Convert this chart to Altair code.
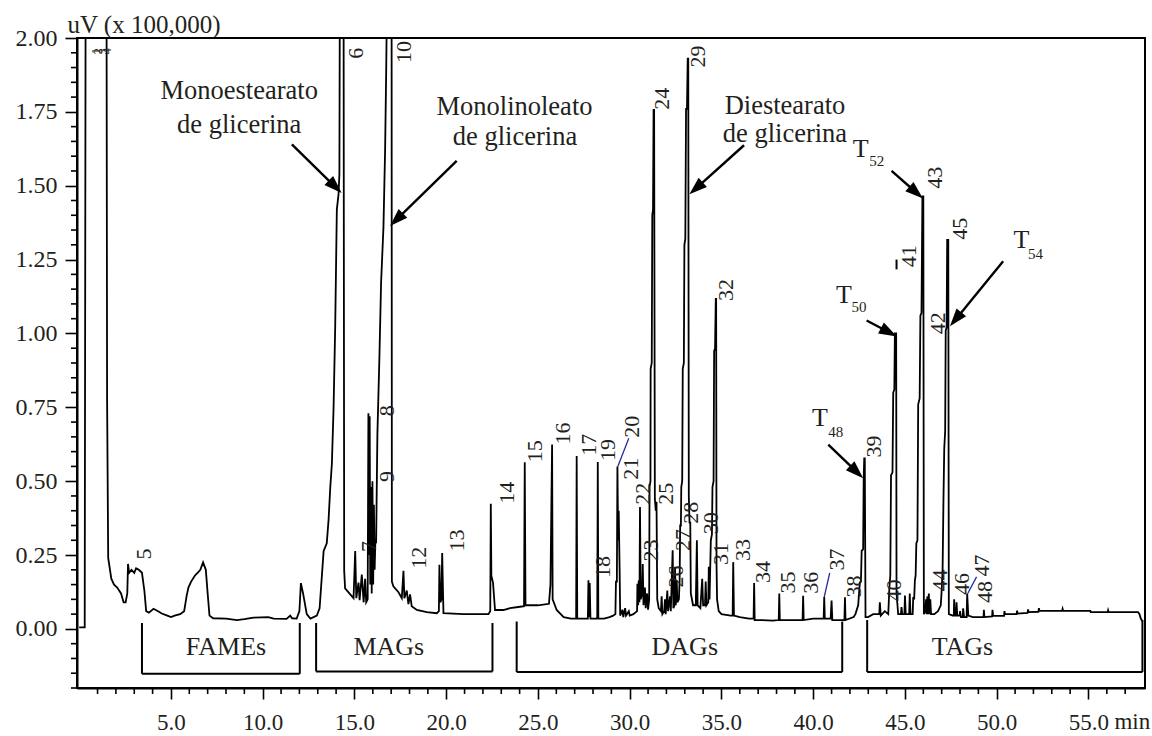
import math
import altair as alt
import pandas as pd

# ---------------- chromatogram trace (min, uV x 100,000) ----------------
TIME = [
    0.00, 0.30, 0.36, 1.48, 1.52, 1.58, 1.75, 1.90, 2.07, 2.28, 2.42, 2.53, 2.62, 2.66, 2.72, 2.85,
    3.00, 3.10, 3.25, 3.42, 3.55, 3.65, 3.80, 4.05, 4.30, 4.50, 4.80, 5.00, 5.20, 5.50, 5.72, 5.85,
    5.95, 6.10, 6.30, 6.45, 6.60, 6.75, 6.90, 7.00, 7.10, 7.30, 8.00, 8.60, 9.00, 9.50, 10.30, 10.60,
    11.30, 11.50, 11.60, 11.85, 12.00, 12.08, 12.20, 12.40, 12.60, 12.95, 13.10, 13.32, 13.49, 13.59,
    13.68, 13.77, 13.86, 13.95, 14.04, 14.13, 14.18, 14.22, 14.40, 14.44, 14.49, 14.77, 14.95, 15.04,
    15.10, 15.22, 15.28, 15.40, 15.50, 15.58, 15.64, 15.72, 15.76, 15.80, 15.83, 15.86, 15.90, 15.94,
    15.98, 16.02, 16.06, 16.10, 16.14, 16.18, 16.25, 16.36, 16.45, 16.58, 16.67, 16.73, 16.85, 17.02,
    17.04, 17.12, 17.40, 17.58, 17.67, 17.72, 17.85, 17.94, 18.03, 18.12, 18.40, 18.94, 19.49, 19.60,
    19.63, 19.68, 19.74, 19.78, 19.85, 20.94, 22.30, 22.40, 22.43, 22.46, 22.55, 22.66, 23.11, 23.48,
    24.02, 24.24, 24.28, 24.32, 25.00, 25.60, 25.68, 25.77, 25.80, 26.02, 26.40, 26.80, 27.08, 27.11,
    27.14, 27.50, 27.72, 27.75, 27.78, 27.82, 27.86, 28.20, 28.23, 28.26, 28.29, 28.60, 28.90, 29.10,
    29.22, 29.25, 29.30, 29.33, 29.37, 29.40, 29.45, 29.48, 29.60, 29.65, 29.75, 29.80, 29.95, 30.00,
    30.20, 30.40, 30.42, 30.46, 30.49, 30.53, 30.56, 30.60, 30.68, 30.71, 30.75, 30.83, 30.87, 30.95,
    31.00, 31.06, 31.08, 31.13, 31.14, 31.20, 31.23, 31.27, 31.30, 31.33, 31.37, 31.42, 31.46, 31.50,
    31.58, 31.70, 31.74, 31.78, 31.88, 31.92, 31.96, 32.05, 32.09, 32.20, 32.24, 32.34, 32.38, 32.44,
    32.47, 32.51, 32.56, 32.60, 32.68, 32.72, 32.75, 32.79, 32.81, 32.86, 32.89, 32.95, 32.98, 33.03,
    33.07, 33.12, 33.16, 33.19, 33.22, 33.26, 33.30, 33.33, 33.45, 33.60, 33.66, 33.70, 33.85, 33.95,
    34.00, 34.10, 34.14, 34.18, 34.28, 34.31, 34.35, 34.42, 34.48, 34.51, 34.57, 34.60, 34.65, 34.69,
    34.71, 34.73, 34.76, 34.85, 35.00, 35.50, 35.61, 35.64, 35.68, 36.00, 36.50, 36.75, 36.78, 36.81,
    37.20, 37.80, 38.12, 38.15, 38.18, 38.80, 39.42, 39.45, 39.48, 40.00, 40.57, 40.60, 40.63, 40.95,
    41.00, 41.04, 41.50, 41.70, 41.73, 41.76, 42.20, 42.30, 42.45, 42.54, 42.60, 42.64, 42.72, 42.75,
    42.78, 42.81, 42.85, 42.99, 43.27, 43.60, 43.63, 43.68, 43.90, 44.09, 44.15, 44.20, 44.24, 44.32,
    44.36, 44.42, 44.45, 44.52, 44.54, 44.63, 44.78, 44.81, 44.85, 44.97, 45.00, 45.04, 45.23, 45.26,
    45.30, 45.42, 45.45, 45.50, 45.54, 45.58, 45.62, 45.68, 45.72, 45.80, 45.84, 45.90, 45.95, 46.00,
    46.03, 46.10, 46.15, 46.18, 46.22, 46.25, 46.30, 46.33, 46.38, 46.42, 46.60, 46.80, 46.95, 47.00,
    47.05, 47.10, 47.14, 47.19, 47.22, 47.27, 47.30, 47.36, 47.39, 47.60, 47.66, 47.68, 47.72, 47.79,
    47.81, 47.85, 47.98, 48.00, 48.05, 48.15, 48.17, 48.22, 48.36, 48.39, 48.45, 48.70, 49.28, 49.30,
    49.33, 49.75, 49.77, 49.80, 50.40, 50.42, 50.45, 51.08, 51.11, 51.14, 51.68, 51.71, 51.74, 52.27,
    52.30, 52.33, 53.56, 53.59, 53.62, 55.10, 55.12, 56.05, 56.07, 56.10, 57.70, 57.78, 57.85, 57.95,
]
SIGNAL = [
    0.005, 0.005, 2.60, 2.60, 0.78, 0.24, 0.17, 0.15, 0.14, 0.12, 0.09, 0.09, 0.12, 0.22, 0.19, 0.20,
    0.19, 0.205, 0.20, 0.19, 0.13, 0.06, 0.055, 0.068, 0.06, 0.052, 0.045, 0.04, 0.045, 0.05, 0.06, 0.11,
    0.14, 0.16, 0.18, 0.19, 0.20, 0.225, 0.20, 0.12, 0.045, 0.036, 0.035, 0.03, 0.033, 0.038, 0.04, 0.035,
    0.034, 0.045, 0.036, 0.035, 0.06, 0.155, 0.12, 0.05, 0.035, 0.045, 0.07, 0.264, 0.29, 0.37,
    0.477, 0.56, 0.744, 1.02, 1.42, 1.47, 1.54, 2.60, 2.60, 0.197, 0.137, 0.117, 0.104, 0.264,
    0.104, 0.157, 0.097, 0.184, 0.09, 0.17, 0.09, 0.10, 0.73, 0.25, 0.72, 0.15, 0.48, 0.12,
    0.50, 0.15, 0.42, 0.20, 0.30, 0.29, 0.66, 0.92, 1.17, 1.36, 1.62, 1.89, 2.60, 2.60,
    0.16, 0.144, 0.124, 0.104, 0.197, 0.104, 0.13, 0.084, 0.117, 0.077, 0.064, 0.057, 0.053, 0.06,
    0.217, 0.09, 0.10, 0.257, 0.053, 0.05, 0.05, 0.06, 0.424, 0.18, 0.157, 0.064, 0.064, 0.07,
    0.075, 0.077, 0.564, 0.08, 0.08, 0.085, 0.15, 0.624, 0.10, 0.064, 0.04, 0.035, 0.035, 0.585,
    0.035, 0.035, 0.035, 0.165, 0.04, 0.155, 0.035, 0.035, 0.04, 0.565, 0.035, 0.035, 0.04, 0.045,
    0.05, 0.16, 0.16, 0.55, 0.30, 0.40, 0.20, 0.045, 0.065, 0.04, 0.07, 0.045, 0.06, 0.045,
    0.05, 0.06, 0.153, 0.08, 0.164, 0.09, 0.413, 0.10, 0.12, 0.22, 0.08, 0.14, 0.07, 0.12,
    0.065, 0.10, 0.48, 0.50, 0.88, 0.90, 1.40, 1.42, 1.757, 1.757, 0.44, 0.40, 0.43, 0.10,
    0.07, 0.06, 0.11, 0.05, 0.06, 0.10, 0.05, 0.13, 0.06, 0.11, 0.06, 0.266, 0.07, 0.08,
    0.21, 0.08, 0.165, 0.09, 0.10, 0.165, 0.35, 0.35, 0.48, 0.50, 0.88, 0.90, 1.30, 1.32,
    1.76, 1.76, 1.93, 1.93, 0.45, 0.36, 0.36, 0.12, 0.08, 0.08, 0.30, 0.08, 0.07, 0.17,
    0.08, 0.08, 0.16, 0.08, 0.09, 0.21, 0.10, 0.30, 0.32, 0.48, 0.50, 0.94, 0.95, 1.117,
    1.117, 0.22, 0.10, 0.06, 0.05, 0.045, 0.045, 0.226, 0.045, 0.04, 0.035, 0.035, 0.155, 0.03,
    0.03, 0.028, 0.03, 0.12, 0.03, 0.03, 0.03, 0.112, 0.03, 0.035, 0.035, 0.108, 0.035, 0.035,
    0.096, 0.03, 0.03, 0.03, 0.107, 0.03, 0.04, 0.05, 0.08, 0.157, 0.16, 0.264, 0.27, 0.51,
    0.577, 0.577, 0.04, 0.04, 0.05, 0.05, 0.09, 0.045, 0.06, 0.05, 0.14, 0.18, 0.52, 0.53,
    0.80, 0.81, 1.00, 1.00, 0.12, 0.05, 0.05, 0.074, 0.05, 0.05, 0.113, 0.05, 0.05, 0.12,
    0.05, 0.05, 0.108, 0.10, 0.164, 0.18, 0.29, 0.30, 0.76, 0.78, 1.06, 1.07, 1.464, 1.464,
    0.05, 0.06, 0.10, 0.05, 0.11, 0.05, 0.12, 0.05, 0.10, 0.05, 0.05, 0.06, 0.08, 0.13,
    0.20, 0.45, 0.61, 0.67, 1.01, 1.02, 1.317, 1.317, 0.05, 0.045, 0.045, 0.10, 0.045, 0.045,
    0.09, 0.045, 0.045, 0.06, 0.04, 0.04, 0.07, 0.04, 0.04, 0.12, 0.045, 0.04, 0.04, 0.065,
    0.04, 0.042, 0.065, 0.044, 0.044, 0.06, 0.05, 0.05, 0.062, 0.052, 0.054, 0.066, 0.057, 0.058,
    0.07, 0.061, 0.061, 0.068, 0.061, 0.061, 0.057, 0.057, 0.063, 0.057, 0.057, 0.05, 0.035, 0.025,
]

# ---------------- peak numbers (rotated labels) ----------------
PEAK_LABELS = ["5", "6", "7", "8", "9", "10", "12", "13", "14", "15", "16", "17", "18", "19", "20",
               "21", "22", "23", "24", "25", "26", "27", "28", "29", "30", "31", "32", "33", "34",
               "35", "36", "37", "38", "39", "40", "41", "42", "43", "44", "45", "46", "47", "48"]
PEAK_LABEL_T = [3.52, 15.10, 15.80, 16.80, 16.80, 17.70, 18.49, 20.61, 23.30, 24.85, 26.38, 27.77, 28.53,
                28.80, 30.12, 30.07, 30.75, 31.16, 31.75, 31.97, 32.50, 32.92, 33.32, 33.73, 34.42,
                35.00, 35.27, 36.18, 37.25, 38.65, 39.90, 41.30, 42.20, 43.33, 44.40, 45.21, 46.81,
                46.63, 46.92, 47.99, 48.10, 49.18, 49.35]
PEAK_LABEL_V = [0.235, 1.93, 0.26, 0.72, 0.497, 1.915, 0.204, 0.262, 0.424, 0.564, 0.624, 0.586, 0.172,
                0.568, 0.647, 0.505, 0.42, 0.228, 1.757, 0.42, 0.14, 0.264, 0.356, 1.90, 0.32,
                0.216, 1.11, 0.23, 0.155, 0.12, 0.119, 0.198, 0.106, 0.58, 0.093, 1.224, 0.997,
                1.49, 0.127, 1.317, 0.115, 0.177, 0.088]

SOLVENT_LABELS = ["1", "2", "3", "4"]
SOLVENT_LABEL_T = [0.90, 1.05, 1.30, 1.50]
SOLVENT_LABEL_V = [1.945, 1.945, 1.945, 1.945]

# blue leader lines (20, 37, 47)
LEADER_T0 = [29.35, 40.60, 48.42]
LEADER_V0 = [0.55, 0.108, 0.12]
LEADER_T1 = [29.95, 40.90, 48.90]
LEADER_V1 = [0.645, 0.19, 0.176]

# small dash beside "41"
DASH_T = [44.54]
DASH_V0 = [1.217]
DASH_V1 = [1.25]

# ---------------- compound annotations ----------------
NOTE_TEXT = ["Monoestearato", "de glicerina", "Monolinoleato", "de glicerina",
             "Diestearato", "de glicerina"]
NOTE_T = [8.72, 8.72, 23.72, 23.75, 38.46, 38.46]
NOTE_V = [1.82, 1.707, 1.765, 1.664, 1.77, 1.675]

ARROW_T0 = [11.59, 20.57, 36.23, 40.82, 42.91, 44.27, 50.35]
ARROW_V0 = [1.64, 1.584, 1.637, 0.624, 1.044, 1.55, 1.244]
ARROW_T1 = [14.30, 16.94, 33.25, 42.72, 44.56, 45.98, 47.45]
ARROW_V1 = [1.475, 1.364, 1.471, 0.51, 0.99, 1.457, 1.024]

TAG_SYMBOL = ["T", "T", "T", "T"]
TAG_SUB = ["48", "50", "52", "54"]
TAG_T = [40.37, 41.67, 42.59, 51.35]
TAG_V = [0.713, 1.131, 1.624, 1.315]
TAG_SUB_T = [40.82, 42.09, 43.05, 51.71]
TAG_SUB_V = [0.667, 1.09, 1.584, 1.27]

# ---------------- class brackets ----------------
GROUP_NAMES = ["FAMEs", "MAGs", "DAGs", "TAGs"]
GROUP_START = [3.42, 12.91, 23.84, 42.94]
GROUP_END = [12.02, 22.52, 41.58, 57.94]
GROUP_TOP = [0.02, 0.02, 0.025, 0.03]
GROUP_BOTTOM = [-0.152, -0.144, -0.146, -0.146]
GROUP_LABEL_T = [8.0, 16.87, 33.0, 48.13]
GROUP_LABEL_V = [-0.062, -0.062, -0.062, -0.062]

# ---------------- axes ----------------
X_DOMAIN = [-0.12, 58.08]
Y_DOMAIN = [-0.2, 2.0]
X_MAJOR = [5, 10, 15, 20, 25, 30, 35, 40, 45, 50, 55]
X_MINOR = [v for v in range(1, 58) if v % 5 != 0]
Y_MAJOR = [0.0, 0.25, 0.5, 0.75, 1.0, 1.25, 1.5, 1.75, 2.0]
Y_MINOR = [-0.20, -0.15, -0.10, -0.05, 0.05, 0.10, 0.15, 0.20, 0.30, 0.35, 0.40, 0.45,
           0.55, 0.60, 0.65, 0.70, 0.80, 0.85, 0.90, 0.95, 1.05, 1.10, 1.15, 1.20,
           1.30, 1.35, 1.40, 1.45, 1.55, 1.60, 1.65, 1.70, 1.80, 1.85, 1.90, 1.95]
X_UNIT = ["min"]
X_UNIT_AT = [55]

W, H = 1068, 650
FONT = "Liberation Serif"
INK = "#231f20"
XLAB_SIZE = 23
XLAB_PAD = 12

xs = alt.Scale(domain=X_DOMAIN, nice=False, zero=False)
ys = alt.Scale(domain=Y_DOMAIN, nice=False, zero=False)

x_axis = alt.Axis(
    values=X_MAJOR, format=".1f", tickSize=11, tickColor="black", tickWidth=1.6,
    domainColor="black", domainWidth=2,
    labelFont=FONT, labelFontSize=XLAB_SIZE, labelColor=INK, labelPadding=XLAB_PAD,
    labelOverlap=False, labelFlush=False, grid=False, title=None,
)
y_axis = alt.Axis(
    values=Y_MAJOR, format=".2f", tickSize=12, tickColor="black", tickWidth=1.6,
    domainColor="black", domainWidth=2,
    labelFont=FONT, labelFontSize=24, labelColor=INK, labelPadding=8,
    labelOverlap=False, labelFlush=False, grid=False,
    title="uV (x 100,000)", titleAngle=0, titleAlign="left", titleBaseline="alphabetic",
    titleX=-10, titleY=-6, titleFont=FONT, titleFontSize=25, titleFontWeight="normal",
    titleColor=INK,
)


def xe(field):
    return alt.X(field, scale=xs, axis=x_axis)


def ye(field):
    return alt.Y(field, scale=ys, axis=y_axis)


trace_df = pd.DataFrame({"t": TIME, "v": SIGNAL, "i": range(len(TIME))})
trace = alt.Chart(trace_df).mark_line(color="black", strokeWidth=1.8, clip=True).encode(
    x=xe("t:Q"), y=ye("v:Q"), order="i:Q",
)

# minor ticks outside the frame
xminor = alt.Chart(pd.DataFrame({"t": X_MINOR})).mark_rule(color="black", strokeWidth=1.6).encode(
    x=xe("t:Q"), y=alt.value(H), y2=alt.value(H + 6))
yminor = alt.Chart(pd.DataFrame({"v": Y_MINOR})).mark_rule(color="black", strokeWidth=1.6).encode(
    y=ye("v:Q"), x=alt.value(-6), x2=alt.value(0))
unit_df = pd.DataFrame({"u": X_UNIT, "t": X_UNIT_AT, "v": [Y_DOMAIN[0]]})
unit = alt.Chart(unit_df).mark_text(
    align="left", baseline="top", dx=26, dy=11 + XLAB_PAD, font=FONT, fontSize=XLAB_SIZE, color=INK
).encode(x=xe("t:Q"), y=ye("v:Q"), text="u:N")

peak_df = pd.DataFrame({"lab": PEAK_LABELS, "t": PEAK_LABEL_T, "v": PEAK_LABEL_V})
peaks = alt.Chart(peak_df).mark_text(
    angle=270, align="left", baseline="middle", font=FONT, fontSize=22, color=INK
).encode(x=xe("t:Q"), y=ye("v:Q"), text="lab:N")

solv_df = pd.DataFrame({"lab": SOLVENT_LABELS, "t": SOLVENT_LABEL_T, "v": SOLVENT_LABEL_V})
solv = alt.Chart(solv_df).mark_text(
    angle=270, align="left", baseline="middle", font=FONT, fontSize=12, color=INK
).encode(x=xe("t:Q"), y=ye("v:Q"), text="lab:N")

lead_df = pd.DataFrame({"t0": LEADER_T0, "v0": LEADER_V0, "t1": LEADER_T1, "v1": LEADER_V1})
leaders = alt.Chart(lead_df).mark_rule(color="#2a2a9a", strokeWidth=1.3).encode(
    x=xe("t0:Q"), y=ye("v0:Q"), x2="t1:Q", y2="v1:Q")

dash_df = pd.DataFrame({"t": DASH_T, "v0": DASH_V0, "v1": DASH_V1})
dash = alt.Chart(dash_df).mark_rule(color="black", strokeWidth=2).encode(
    x=xe("t:Q"), y=ye("v0:Q"), y2="v1:Q")

note_df = pd.DataFrame({"txt": NOTE_TEXT, "t": NOTE_T, "v": NOTE_V})
notes = alt.Chart(note_df).mark_text(
    align="center", baseline="middle", font=FONT, fontSize=26.5, color=INK
).encode(x=xe("t:Q"), y=ye("v:Q"), text="txt:N")

# arrows: shaft + head, head angle taken from the data direction in screen space
KX = W / (X_DOMAIN[1] - X_DOMAIN[0])
KY = H / (Y_DOMAIN[1] - Y_DOMAIN[0])
rows = []
for t0, v0, t1, v1 in zip(ARROW_T0, ARROW_V0, ARROW_T1, ARROW_V1):
    dx = (t1 - t0) * KX
    dy = -(v1 - v0) * KY
    L = math.hypot(dx, dy)
    ang = math.degrees(math.atan2(dx, -dy)) % 360
    back = 9.0
    rows.append({"t0": t0, "v0": v0, "t1": t1, "v1": v1,
                 "te": t1 - back * dx / L / KX, "ve": v1 + back * dy / L / KY, "ang": ang})
arrow_df = pd.DataFrame(rows)
shafts = alt.Chart(arrow_df).mark_rule(color="black", strokeWidth=2.4).encode(
    x=xe("t0:Q"), y=ye("v0:Q"), x2="te:Q", y2="ve:Q")
heads = alt.Chart(arrow_df).mark_point(
    shape="M0,0L0.62,1.8L-0.62,1.8Z", filled=True, size=400, color="black",
    opacity=1, strokeWidth=0
).encode(x=xe("t1:Q"), y=ye("v1:Q"), angle=alt.Angle("ang:Q", scale=None))

tag_df = pd.DataFrame({"s": TAG_SYMBOL, "t": TAG_T, "v": TAG_V})
tags = alt.Chart(tag_df).mark_text(
    align="center", baseline="middle", font=FONT, fontSize=26, color=INK
).encode(x=xe("t:Q"), y=ye("v:Q"), text="s:N")
sub_df = pd.DataFrame({"s": TAG_SUB, "t": TAG_SUB_T, "v": TAG_SUB_V})
subs = alt.Chart(sub_df).mark_text(
    align="left", baseline="middle", font=FONT, fontSize=15, color=INK
).encode(x=xe("t:Q"), y=ye("v:Q"), text="s:N")

grp_df = pd.DataFrame({"name": GROUP_NAMES, "a": GROUP_START, "b": GROUP_END,
                       "top": GROUP_TOP, "bot": GROUP_BOTTOM,
                       "lt": GROUP_LABEL_T, "lv": GROUP_LABEL_V})
g_left = alt.Chart(grp_df).mark_rule(color="black", strokeWidth=2).encode(
    x=xe("a:Q"), y=ye("top:Q"), y2="bot:Q")
g_right = alt.Chart(grp_df).mark_rule(color="black", strokeWidth=2).encode(
    x=xe("b:Q"), y=ye("top:Q"), y2="bot:Q")
g_bottom = alt.Chart(grp_df).mark_rule(color="black", strokeWidth=2).encode(
    x=xe("a:Q"), x2="b:Q", y=ye("bot:Q"))
g_text = alt.Chart(grp_df).mark_text(
    align="center", baseline="middle", font=FONT, fontSize=26, color=INK
).encode(x=xe("lt:Q"), y=ye("lv:Q"), text="name:N")

chart = alt.layer(
    trace, xminor, yminor, unit, g_left, g_right, g_bottom, g_text, leaders, dash, peaks, solv,
    notes, shafts, heads, tags, subs
).properties(
    width=W, height=H,
    autosize=alt.AutoSizeParams(type="none"),
    padding={"left": 77, "top": 38, "right": 7, "bottom": 48},
    background="white",
).configure_view(stroke="black", strokeWidth=2)

chart.save("out.html", embed_options={"renderer": "svg", "actions": False})
